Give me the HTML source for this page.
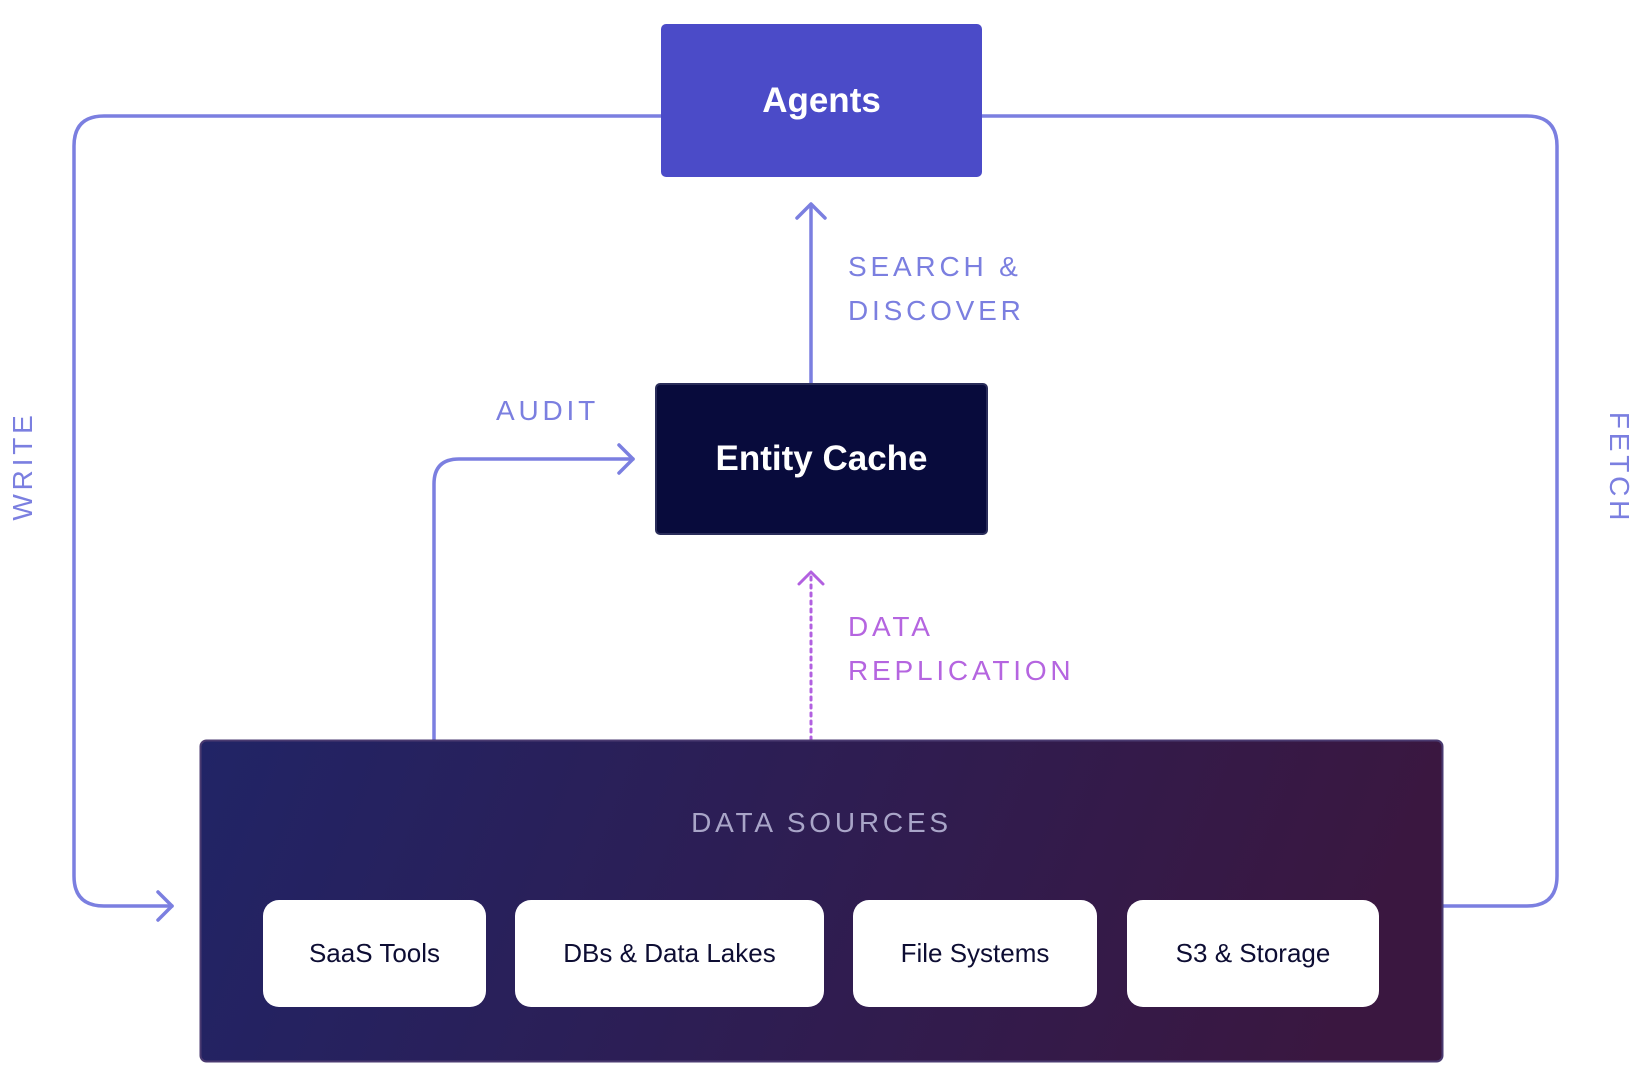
<!DOCTYPE html>
<html><head><meta charset="utf-8"><style>
html,body{margin:0;padding:0;background:#fff;}
body{width:1644px;height:1088px;position:relative;overflow:hidden;font-family:"Liberation Sans",sans-serif;}
.box{position:absolute;box-sizing:border-box;display:flex;align-items:center;justify-content:center;}
.lbl{position:absolute;color:#7b7fe0;font-size:28px;letter-spacing:3.8px;line-height:44px;white-space:nowrap;}
.item{position:absolute;top:900px;height:107px;background:#fff;border-radius:16px;display:flex;align-items:center;justify-content:center;font-size:26px;color:#0d0d33;}
</style></head><body>
<svg width="1644" height="1088" style="position:absolute;left:0;top:0" fill="none" stroke-linecap="round" stroke-linejoin="round">
<g stroke="#7b7fe0" stroke-width="3.5">
<path d="M661 116 H104 Q74 116 74 146 V876 Q74 906 104 906 H172"/>
<path d="M158 892 L172 906 L158 920"/>
<path d="M982 116 H1527 Q1557 116 1557 146 V876 Q1557 906 1527 906 H1443"/>
<path d="M811 383 V205"/>
<path d="M797 218 L811 204 L825 218"/>
<path d="M434 740 V484 Q434 459 459 459 H633"/>
<path d="M619 445 L633 459 L619 473"/>
</g>
<g stroke="#b260e0" stroke-width="3">
<path d="M811 740 V575" stroke-dasharray="3 5"/>
<path d="M799 584 L811 572 L823 584"/>
</g>
<defs><linearGradient id="g" x1="0" y1="0" x2="1" y2="0.1"><stop offset="0" stop-color="#212466"/><stop offset="1" stop-color="#3a1740"/></linearGradient></defs>
<rect x="200.5" y="740.5" width="1242" height="321" rx="6" fill="url(#g)" stroke="#4a3a70" stroke-width="2"/>
</svg>
<div class="box" style="left:661px;top:24px;width:321px;height:153px;background:#4b4bc8;border-radius:5px;color:#fff;font-weight:bold;font-size:35px;">Agents</div>
<div class="box" style="left:655px;top:383px;width:333px;height:152px;background:#080b3c;border:2px solid #2a2d5a;border-radius:5px;color:#fff;font-weight:bold;font-size:35px;">Entity Cache</div>
<div class="lbl" style="left:848px;top:245px;">SEARCH &amp;<br>DISCOVER</div>
<div class="lbl" style="left:496px;top:389px;">AUDIT</div>
<div class="lbl" style="left:848px;top:605px;color:#b565e0;">DATA<br>REPLICATION</div>
<div class="lbl" style="left:23px;top:466px;transform:translate(-50%,-50%) rotate(-90deg);">WRITE</div>
<div class="lbl" style="left:1619px;top:468px;transform:translate(-50%,-50%) rotate(90deg);">FETCH</div>
<div class="lbl" style="left:200px;width:1243px;text-align:center;top:801px;color:#a9a5c8;">DATA SOURCES</div>
<div class="item" style="left:263px;width:223px;">SaaS Tools</div>
<div class="item" style="left:515px;width:309px;">DBs &amp; Data Lakes</div>
<div class="item" style="left:853px;width:244px;">File Systems</div>
<div class="item" style="left:1127px;width:252px;">S3 &amp; Storage</div>
</body></html>
